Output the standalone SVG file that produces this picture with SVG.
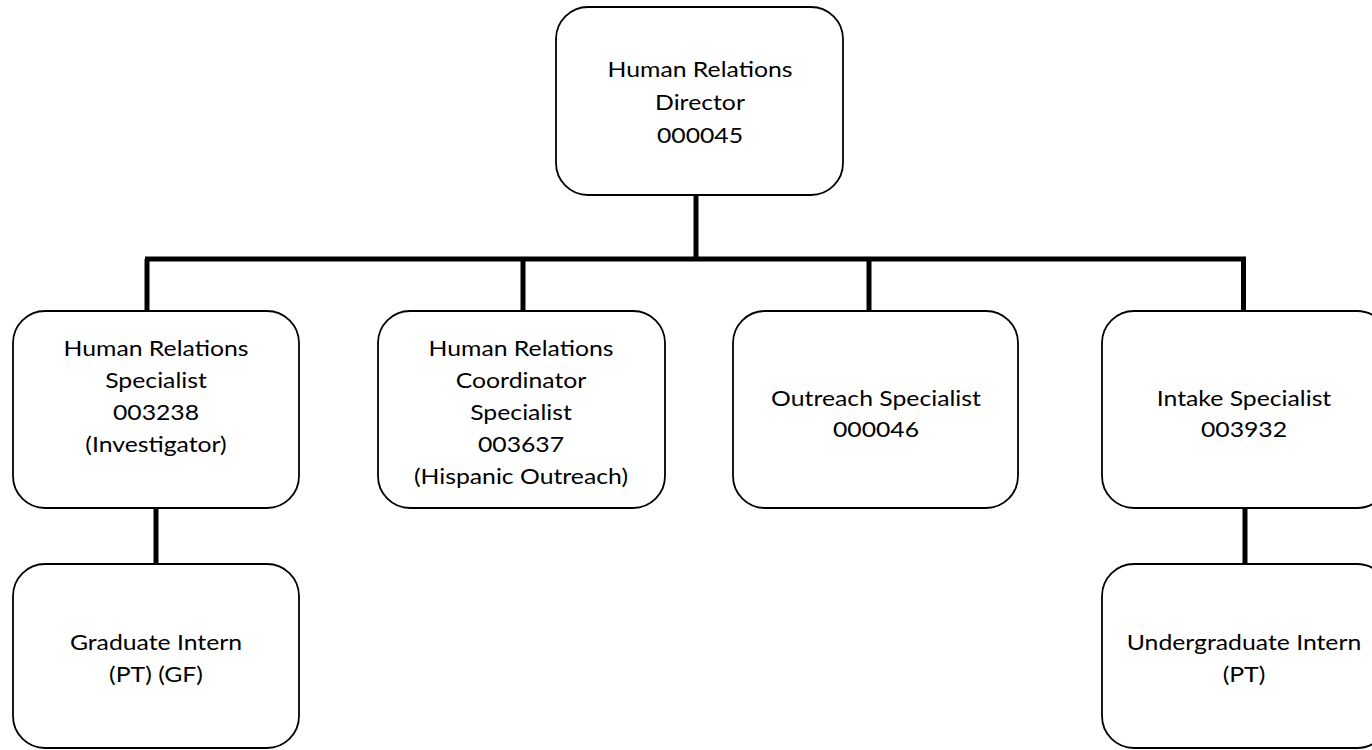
<svg xmlns="http://www.w3.org/2000/svg" width="1372" height="750" viewBox="0 0 1372 750">
<style>
.box{fill:#fff;stroke:#000;stroke-width:1.8}
.conn{stroke:#000;stroke-width:5;fill:none;stroke-linecap:butt}
text{font-family:Lato,"Liberation Sans",sans-serif;font-size:21px;fill:#000;text-anchor:middle}
</style>
<rect width="1372" height="750" fill="#fff"/>
<g id="connectors">
<line class="conn" x1="696" y1="195" x2="696" y2="259"/>
<line class="conn" x1="145" y1="259" x2="1246" y2="259"/>
<line class="conn" x1="147" y1="259" x2="147" y2="311"/>
<line class="conn" x1="523" y1="259" x2="523" y2="311"/>
<line class="conn" x1="869" y1="259" x2="869" y2="311"/>
<line class="conn" x1="1243.5" y1="259" x2="1243.5" y2="311"/>
<line class="conn" x1="156" y1="508" x2="156" y2="564"/>
<line class="conn" x1="1245" y1="508" x2="1245" y2="564"/>
</g>
<g id="director">
<rect class="box" x="556" y="7" width="287" height="188" rx="32"/>
<g transform="translate(700 0) scale(1.18 1)">
<text x="0" y="77">Human Relations</text>
<text x="0" y="110">Director</text>
<text x="0" y="143">000045</text>
</g>
</g>
<g id="hr-specialist">
<rect class="box" x="13" y="311" width="286" height="197" rx="32"/>
<g transform="translate(156 0) scale(1.18 1)">
<text x="0" y="356">Human Relations</text>
<text x="0" y="388">Specialist</text>
<text x="0" y="420">003238</text>
<text x="0" y="452">(Investigator)</text>
</g>
</g>
<g id="hr-coordinator">
<rect class="box" x="378" y="311" width="287" height="197" rx="32"/>
<g transform="translate(521 0) scale(1.18 1)">
<text x="0" y="356">Human Relations</text>
<text x="0" y="388">Coordinator</text>
<text x="0" y="420">Specialist</text>
<text x="0" y="452">003637</text>
<text x="0" y="484">(Hispanic Outreach)</text>
</g>
</g>
<g id="outreach">
<rect class="box" x="733" y="311" width="285" height="197" rx="32"/>
<g transform="translate(876 0) scale(1.18 1)">
<text x="0" y="406">Outreach Specialist</text>
<text x="0" y="437">000046</text>
</g>
</g>
<g id="intake">
<rect class="box" x="1102" y="311" width="287" height="197" rx="32"/>
<g transform="translate(1244 0) scale(1.18 1)">
<text x="0" y="406">Intake Specialist</text>
<text x="0" y="437">003932</text>
</g>
</g>
<g id="grad-intern">
<rect class="box" x="13" y="564" width="286" height="184" rx="32"/>
<g transform="translate(156 0) scale(1.18 1)">
<text x="0" y="650">Graduate Intern</text>
<text x="0" y="682">(PT) (GF)</text>
</g>
</g>
<g id="undergrad-intern">
<rect class="box" x="1102" y="564" width="287" height="184" rx="32"/>
<g transform="translate(1244 0) scale(1.18 1)">
<text x="0" y="650">Undergraduate Intern</text>
<text x="0" y="682">(PT)</text>
</g>
</g>
</svg>
